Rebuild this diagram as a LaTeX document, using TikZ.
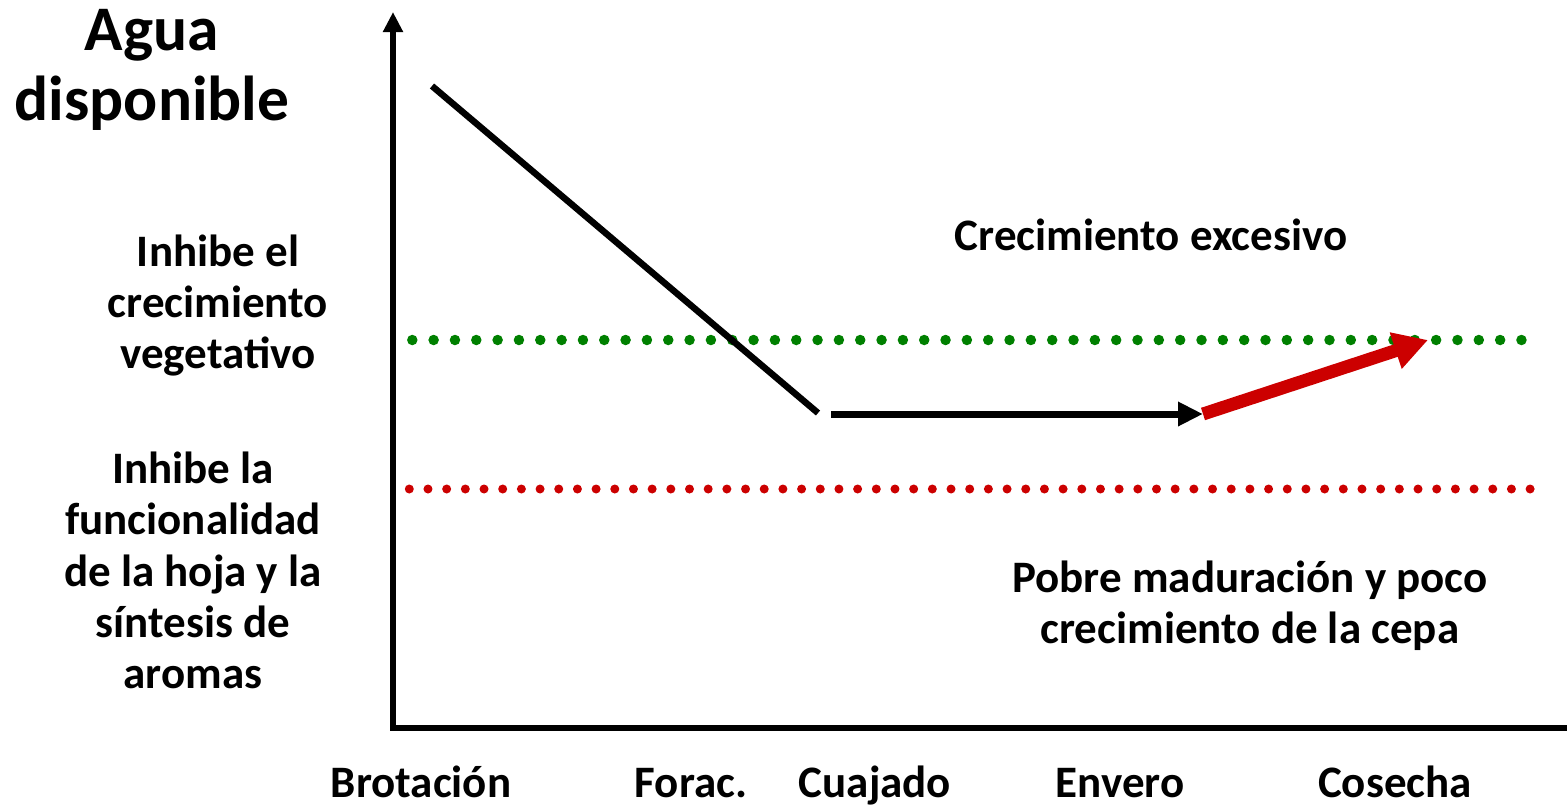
\documentclass[tikz,border=0pt]{standalone}
\usepackage{fontspec}
\setmainfont{Carlito}
\usetikzlibrary{arrows.meta}
\definecolor{dotgreen}{RGB}{0,128,0}
\definecolor{dotred}{RGB}{204,0,0}
\begin{document}
\begin{tikzpicture}[x=1pt,y=-1pt,
  lbl/.style={font=\fontsize{45}{51}\selectfont\bfseries, inner sep=0pt, anchor=base},
  ttl/.style={font=\fontsize{63.5}{70}\selectfont\bfseries, inner sep=0pt, anchor=base},
  axisline/.style={line width=6pt, line join=miter},
  greendots/.style={dotgreen, line width=10.5pt, line cap=round, dash pattern=on 0pt off 21.33pt},
  reddots/.style={dotred, line width=9pt, line cap=round, dash pattern=on 0pt off 18.68pt},
  trend/.style={line width=6.5pt},
  trendarrow/.style={line width=7pt, -{Triangle[length=25pt,width=23pt]}},
  redarrow/.style={dotred, line width=13pt, -{Triangle[length=34pt,width=36pt]}}]
\useasboundingbox (0,0) rectangle (1567,809);
% axes
\coordinate (ytop) at (393,12);
\coordinate (O) at (393,728);
\coordinate (xend) at (1567,728);
\draw[axisline, {Triangle[length=20pt,width=19pt]}-] (ytop) -- (O) -- (xend);
% threshold lines
\coordinate (g1) at (412.3,340);
\coordinate (g2) at (1524,340);
\draw[greendots] (g1) -- (g2);
\coordinate (r1) at (409.3,489);
\coordinate (r2) at (1532,489);
\draw[reddots] (r1) -- (r2);
% trend
\coordinate (d1) at (432,86);
\coordinate (d2) at (818,413);
\draw[trend] (d1) -- (d2);
\coordinate (h1) at (831,414);
\coordinate (h2) at (1203,414);
\draw[trendarrow] (h1) -- (h2);
\coordinate (e2) at (1428,340);
\draw[redarrow] (h2) -- (e2);
% titles
\node[ttl] (agua) at (152,50) {Agua};
\node[ttl] (disp) at (152,120) {disponible};
% left labels
\node[lbl] (u1) at (218,266) {Inhibe el};
\node[lbl] (u2) at (218,317) {crecimiento};
\node[lbl] (u3) at (218,368) {vegetativo};
\node[lbl] (l1) at (193,483) {Inhibe la};
\node[lbl] (l2) at (193,534) {funcionalidad};
\node[lbl] (l3) at (193,586) {de la hoja y la};
\node[lbl] (l4) at (193,637) {síntesis de};
\node[lbl] (l5) at (193,688) {aromas};
% right labels
\node[lbl] (exc) at (1151,250) {Crecimiento excesivo};
\node[lbl] (p1) at (1250,592) {Pobre maduración y poco};
\node[lbl] (p2) at (1250,643) {crecimiento de la cepa};
% x labels
\node[lbl] (x1) at (421,797) {Brotación};
\node[lbl] (x2) at (691,797) {Forac.};
\node[lbl] (x3) at (875,797) {Cuajado};
\node[lbl] (x4) at (1120,797) {Envero};
\node[lbl] (x5) at (1395,797) {Cosecha};
\end{tikzpicture}
\end{document}
